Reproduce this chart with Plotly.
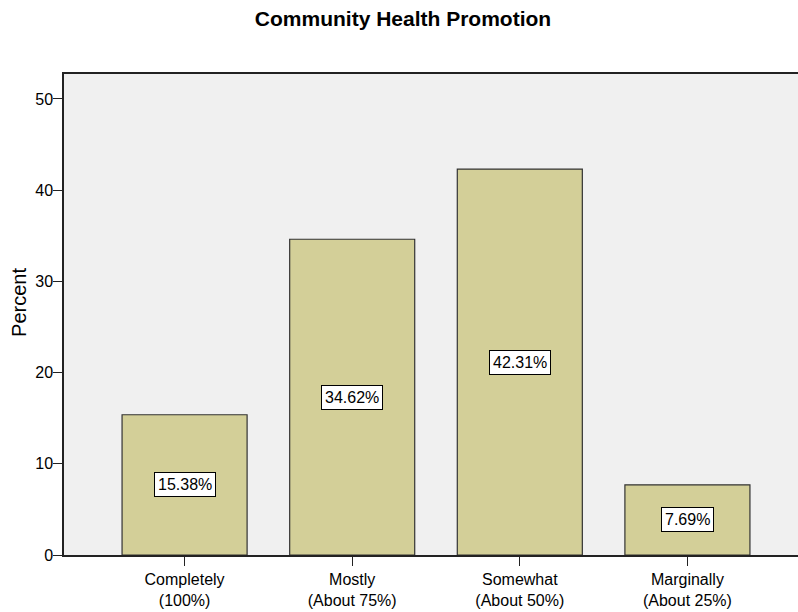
import plotly.graph_objects as go

# Response categories and their share of respondents (percent)
categories = ["Completely<br>(100%)", "Mostly<br>(About 75%)",
              "Somewhat<br>(About 50%)", "Marginally<br>(About 25%)"]
percents = [15.38, 34.62, 42.31, 7.69]

y_ticks = [0, 10, 20, 30, 40, 50]

FONT = "Arial, Liberation Sans, sans-serif"
BAR_FILL = "#D3CF98"
PLOT_BG = "#F0F0F0"
LINE = "#222222"

fig = go.Figure(
    go.Bar(
        x=categories,
        y=percents,
        width=0.746,
        marker=dict(color=BAR_FILL, line=dict(color="#333333", width=1.2)),
        hoverinfo="skip",
    )
)

# Value boxes placed at half height of each bar
for cat, val in zip(categories, percents):
    fig.add_annotation(
        x=cat, y=val / 2, text=f"{val:.2f}%", showarrow=False,
        font=dict(family=FONT, size=16, color="black"),
        bgcolor="white", bordercolor="black", borderwidth=1, borderpad=3,
    )

# Vertical axis title
fig.add_annotation(
    text="Percent", textangle=-90, showarrow=False,
    xref="paper", yref="paper", x=0, y=0.524,
    xanchor="center", yanchor="middle", xshift=-45,
    font=dict(family=FONT, size=20, color="black"),
)

fig.update_layout(
    width=798, height=612,
    margin=dict(l=64, r=0, t=74, b=57),
    paper_bgcolor="white",
    plot_bgcolor=PLOT_BG,
    showlegend=False,
    font=dict(family=FONT, color="black"),
    title=dict(
        text="<b>Community Health Promotion</b>",
        x=0.505, xanchor="center", y=0.969, yanchor="middle",
        font=dict(family=FONT, size=21, color="black"),
    ),
    xaxis=dict(
        type="category",
        range=[-0.7194, 3.6597],
        showgrid=False, zeroline=False,
        showline=True, linecolor=LINE, linewidth=1.5, mirror=True,
        ticks="outside", ticklen=9, tickwidth=1.2, tickcolor=LINE,
        tickfont=dict(family=FONT, size=16, color="black"),
    ),
    yaxis=dict(
        range=[0, 52.74],
        tickvals=y_ticks,
        showgrid=False, zeroline=False,
        showline=True, linecolor=LINE, linewidth=1.5,
        ticks="outside", ticklen=9, tickwidth=1.2, tickcolor=LINE,
        ticklabelstandoff=-3,
        tickfont=dict(family=FONT, size=16, color="black"),
    ),
)

fig.write_html("out.html")
